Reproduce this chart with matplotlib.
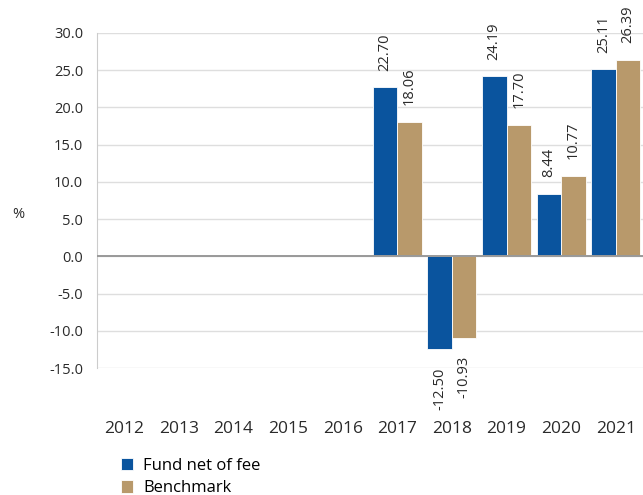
import numpy as np
import matplotlib.pyplot as plt

# data
years = ['2012', '2013', '2014', '2015', '2016', '2017', '2018', '2019', '2020', '2021']
fund = [np.nan, np.nan, np.nan, np.nan, np.nan, 22.70, -12.50, 24.19, 8.44, 25.11]
bench = [np.nan, np.nan, np.nan, np.nan, np.nan, 18.06, -10.93, 17.70, 10.77, 26.39]
yticks = [-15, -10, -5, 0, 5, 10, 15, 20, 25, 30]

BLUE = '#0a549e'
TAN = '#b8996b'

plt.rcParams['font.family'] = ['Open Sans', 'DejaVu Sans']

fig = plt.figure(figsize=(6.43, 4.95), dpi=100)
ax = fig.add_axes([97 / 643, 1 - 368 / 495, 1 - 97 / 643, (368 - 33) / 495])

x = np.arange(len(years))
w = 0.45
b1 = ax.bar(x - w / 2, fund, w, color=BLUE, edgecolor='white', linewidth=0.6,
            label='Fund net of fee', zorder=3)
b2 = ax.bar(x + w / 2, bench, w, color=TAN, edgecolor='white', linewidth=0.6,
            label='Benchmark', zorder=3)

# value labels, rotated
for xs, vals in [(x - w / 2, fund), (x + w / 2, bench)]:
    for xi, v in zip(xs, vals):
        if np.isnan(v):
            continue
        off = 12 if v >= 0 else -13
        ax.annotate(f'{v:.2f}', (xi, v), xytext=(0, off), textcoords='offset points',
                    rotation=90, ha='center', va='bottom' if v >= 0 else 'top',
                    fontsize=10.5, color='#2a2a2a', annotation_clip=False)

ax.set_xlim(-0.5, len(years) - 0.5)
ax.set_ylim(-15, 30)
ax.set_yticks(yticks)
ax.set_yticklabels([f'{t:.1f}' for t in yticks])
ax.set_xticks(x)
ax.set_xticklabels(years)
ax.tick_params(axis='y', length=0, pad=10, labelsize=10.5, labelcolor='#2a2a2a')
ax.tick_params(axis='x', length=0, pad=38, labelsize=12.5, labelcolor='#2a2a2a')

ax.grid(axis='y', color='#dedede', linewidth=1, zorder=0)
ax.axhline(0, color='#999999', linewidth=1.4, zorder=4)
for s in ['top', 'right', 'bottom']:
    ax.spines[s].set_visible(False)
ax.spines['left'].set_color('#cccccc')

fig.text(12 / 643, 1 - 215 / 495, '%', fontsize=10.5, color='#2a2a2a', va='center')

fig.legend(handles=[b1, b2], loc='upper left', bbox_to_anchor=(114 / 643, 1 - 451 / 495),
           frameon=False, fontsize=12, handlelength=0.75, handleheight=0.75,
           handletextpad=0.6, labelspacing=0.4, borderaxespad=0)

fig.savefig('out.png', dpi=100)
